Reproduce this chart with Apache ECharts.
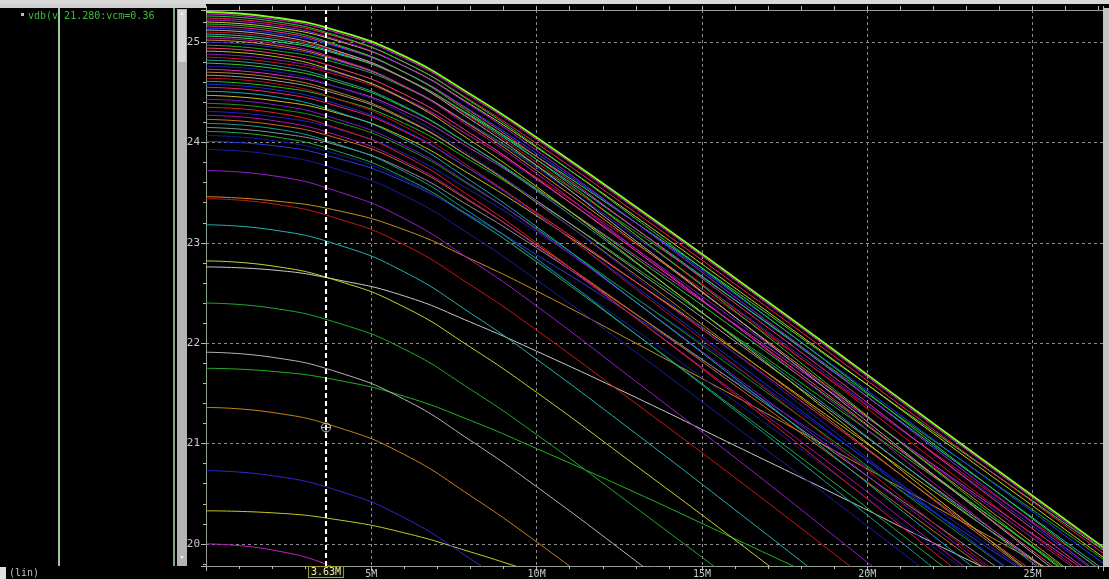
<!DOCTYPE html>
<html><head><meta charset="utf-8">
<script src="https://cdn.jsdelivr.net/npm/echarts@6/dist/echarts.min.js"></script>
<style>html,body{margin:0;padding:0;background:#000;overflow:hidden}#c{width:1109px;height:579px;}</style>
</head><body><div id="c"></div>
<script>
// Frequency samples (MHz) shared by every curve
const freqM = [0, 2, 4, 6, 8, 10, 13, 16, 19, 22, 25, 28];

// vdb curves (dB), lowest DC gain first, top envelope last
const vdbCurves = [
  [20.00, 19.94, 19.75, 19.43],
  [20.33, 20.31, 20.24, 20.11, 19.92, 19.71],
  [20.73, 20.68, 20.53, 20.26, 19.85, 19.39],
  [21.36, 21.31, 21.16, 20.89, 20.48, 20.02, 19.28],
  [21.75, 21.72, 21.63, 21.47, 21.23, 20.95, 20.51, 20.05, 19.59],
  [21.91, 21.86, 21.71, 21.44, 21.03, 20.57, 19.83, 19.07],
  [22.40, 22.35, 22.20, 21.94, 21.54, 21.09, 20.36, 19.62],
  [22.76, 22.73, 22.63, 22.47, 22.21, 21.92, 21.46, 20.98, 20.50, 20.01, 19.53],
  [22.82, 22.77, 22.62, 22.36, 21.96, 21.51, 20.78, 20.04, 19.28],
  [23.18, 23.13, 22.98, 22.71, 22.30, 21.84, 21.10, 20.34, 19.57],
  [23.44, 23.39, 23.24, 22.98, 22.58, 22.13, 21.40, 20.66, 19.90, 19.13],
  [23.46, 23.42, 23.32, 23.13, 22.84, 22.52, 22.00, 21.47, 20.93, 20.38, 19.84, 19.30],
  [23.72, 23.67, 23.51, 23.24, 22.83, 22.37, 21.62, 20.86, 20.08, 19.29],
  [23.93, 23.88, 23.73, 23.47, 23.08, 22.63, 21.91, 21.17, 20.43, 19.67],
  [24.01, 23.97, 23.84, 23.61, 23.27, 22.88, 22.26, 21.62, 20.98, 20.32, 19.67],
  [24.07, 24.02, 23.88, 23.63, 23.25, 22.82, 22.13, 21.42, 20.70, 19.97, 19.25],
  [24.11, 24.06, 23.91, 23.65, 23.26, 22.81, 22.09, 21.35, 20.61, 19.85, 19.10],
  [24.15, 24.10, 23.97, 23.73, 23.36, 22.95, 22.29, 21.61, 20.91, 20.21, 19.52],
  [24.19, 24.14, 23.98, 23.71, 23.30, 22.84, 22.09, 21.33, 20.55, 19.76],
  [24.23, 24.18, 24.04, 23.79, 23.41, 22.98, 22.29, 21.58, 20.86, 20.13, 19.41],
  [24.27, 24.22, 24.07, 23.81, 23.42, 22.97, 22.25, 21.51, 20.77, 20.01, 19.26],
  [24.31, 24.26, 24.13, 23.89, 23.52, 23.11, 22.45, 21.77, 21.07, 20.37, 19.68],
  [24.35, 24.30, 24.14, 23.87, 23.46, 23.00, 22.25, 21.49, 20.71, 19.92, 19.14],
  [24.39, 24.34, 24.20, 23.95, 23.57, 23.14, 22.45, 21.74, 21.02, 20.29, 19.57],
  [24.43, 24.38, 24.23, 23.97, 23.58, 23.13, 22.41, 21.67, 20.93, 20.17, 19.42],
  [24.47, 24.42, 24.29, 24.05, 23.68, 23.27, 22.61, 21.93, 21.23, 20.53, 19.84, 19.15],
  [24.51, 24.46, 24.30, 24.03, 23.62, 23.16, 22.41, 21.65, 20.87, 20.08, 19.30],
  [24.55, 24.50, 24.36, 24.11, 23.73, 23.30, 22.61, 21.90, 21.18, 20.45, 19.73],
  [24.58, 24.53, 24.38, 24.12, 23.73, 23.28, 22.56, 21.82, 21.08, 20.32, 19.57],
  [24.61, 24.56, 24.43, 24.19, 23.82, 23.41, 22.75, 22.07, 21.37, 20.67, 19.98, 19.29],
  [24.64, 24.59, 24.43, 24.16, 23.75, 23.29, 22.54, 21.78, 21.00, 20.21, 19.43],
  [24.67, 24.62, 24.48, 24.23, 23.85, 23.42, 22.73, 22.02, 21.30, 20.57, 19.85, 19.13],
  [24.70, 24.65, 24.50, 24.24, 23.85, 23.40, 22.68, 21.94, 21.20, 20.44, 19.69],
  [24.73, 24.68, 24.55, 24.31, 23.94, 23.53, 22.87, 22.19, 21.49, 20.79, 20.10, 19.41],
  [24.76, 24.71, 24.55, 24.28, 23.87, 23.41, 22.66, 21.90, 21.12, 20.33, 19.55],
  [24.79, 24.74, 24.60, 24.35, 23.97, 23.54, 22.85, 22.14, 21.42, 20.69, 19.97, 19.25],
  [24.82, 24.77, 24.62, 24.36, 23.97, 23.52, 22.80, 22.06, 21.32, 20.56, 19.81, 19.06],
  [24.85, 24.80, 24.67, 24.43, 24.06, 23.65, 22.99, 22.31, 21.61, 20.91, 20.22, 19.53],
  [24.88, 24.83, 24.69, 24.44, 24.06, 23.63, 22.94, 22.23, 21.51, 20.78, 20.06, 19.34],
  [24.91, 24.86, 24.70, 24.43, 24.02, 23.56, 22.81, 22.05, 21.27, 20.48, 19.70],
  [24.94, 24.89, 24.74, 24.48, 24.09, 23.64, 22.92, 22.18, 21.44, 20.68, 19.93, 19.18],
  [24.97, 24.92, 24.79, 24.55, 24.18, 23.77, 23.11, 22.43, 21.73, 21.03, 20.34, 19.65],
  [25.00, 24.95, 24.81, 24.56, 24.18, 23.75, 23.06, 22.35, 21.63, 20.90, 20.18, 19.46],
  [25.02, 24.97, 24.82, 24.56, 24.17, 23.72, 23.00, 22.26, 21.52, 20.76, 20.01, 19.26],
  [25.04, 24.99, 24.83, 24.56, 24.15, 23.69, 22.94, 22.18, 21.40, 20.61, 19.83, 19.06],
  [25.06, 25.01, 24.88, 24.64, 24.27, 23.86, 23.20, 22.52, 21.82, 21.12, 20.43, 19.74],
  [25.08, 25.03, 24.89, 24.64, 24.26, 23.83, 23.14, 22.43, 21.71, 20.98, 20.26, 19.54],
  [25.10, 25.05, 24.90, 24.64, 24.25, 23.80, 23.08, 22.34, 21.60, 20.84, 20.09, 19.34],
  [25.12, 25.07, 24.91, 24.64, 24.23, 23.77, 23.02, 22.26, 21.48, 20.69, 19.91, 19.14],
  [25.14, 25.09, 24.95, 24.70, 24.32, 23.89, 23.20, 22.49, 21.77, 21.04, 20.32, 19.60],
  [25.16, 25.11, 24.96, 24.70, 24.31, 23.86, 23.14, 22.40, 21.66, 20.90, 20.15, 19.40],
  [25.18, 25.13, 24.97, 24.70, 24.29, 23.83, 23.08, 22.32, 21.54, 20.75, 19.97, 19.20],
  [25.20, 25.15, 25.01, 24.76, 24.38, 23.95, 23.26, 22.55, 21.83, 21.10, 20.38, 19.66],
  [25.22, 25.17, 25.02, 24.76, 24.37, 23.92, 23.20, 22.46, 21.72, 20.96, 20.21, 19.46],
  [25.24, 25.19, 25.05, 24.80, 24.42, 23.99, 23.30, 22.59, 21.87, 21.14, 20.42, 19.70],
  [25.26, 25.21, 25.06, 24.80, 24.41, 23.96, 23.24, 22.50, 21.76, 21.00, 20.25, 19.50],
  [25.28, 25.23, 25.09, 24.84, 24.46, 24.03, 23.34, 22.63, 21.91, 21.18, 20.46, 19.74],
  [25.30, 25.25, 25.11, 24.86, 24.48, 24.05, 23.36, 22.65, 21.93, 21.20, 20.48, 19.76]
];

const curveColors = [
  '#c020c0','#c8c828','#2a2ad0','#c8821e','#22b422','#b4b4b4','#20a830','#c8c8c8','#d0d030','#20b4b4',
  '#c81818','#c8901c','#9a1ccc','#1a1aa8','#2a3ae0',
  '#1818a0','#20b040','#909090','#10a0a0','#d07010','#b010b0','#2020c0','#e02020','#10a010','#9010d0',
  '#d0c010','#10b0c0','#ff2070','#1030e0','#20c020','#c01020','#a0a0a0','#c08020','#d030d0','#2020b0',
  '#30d030','#20a0a0','#d01030','#8020c0','#c0c020','#ff4080','#20b020','#3030d0','#e09020','#c010c0',
  '#40e040','#20c0c0','#e01020','#b0b0b0','#2040ff','#ff3090','#30c030','#d0d020','#a020f0','#ff2050',
  '#20d040','#e020e0','#80ff20'
];

const legendText = 'vdb(v 21.280:vcm=0.36';
const xScaleText = '(lin)';
const cursorFreqM = 3.63;
const cursorVdb = 21.16;
const cursorText = '3.63M';

const MONO = '"DejaVu Sans Mono","Liberation Mono",monospace';
const chart = echarts.init(document.getElementById('c'), null, {renderer: 'canvas'});

const lastIdx = vdbCurves.length - 1;
const series = vdbCurves.map((vals, i) => ({
  type: 'line',
  data: vals.map((v, j) => [freqM[j], v]),
  xAxisIndex: 0, yAxisIndex: 0,
  smooth: 0.5,
  symbol: 'none', silent: true, clip: true,
  lineStyle: {color: curveColors[i % curveColors.length], width: i === lastIdx ? 1.8 : 1},
  z: 2
}));

series.push({
  type: 'line', data: [], xAxisIndex: 0, yAxisIndex: 0, silent: true,
  markLine: {
    silent: true, symbol: ['none', 'none'], animation: false,
    lineStyle: {color: '#ffffff', type: [5, 3], width: 2},
    label: {
      show: true, position: 'start', distance: 1, formatter: cursorText,
      color: '#e8e8c8', fontFamily: MONO, fontSize: 10,
      backgroundColor: '#101000', borderColor: '#9c9c30', borderWidth: 1, padding: [0, 2, 0, 2]
    },
    data: [{xAxis: cursorFreqM}]
  },
  z: 5
});

series.push({
  type: 'scatter', data: [[cursorFreqM, cursorVdb]], xAxisIndex: 0, yAxisIndex: 0,
  symbol: 'path://M0,5 A5,5 0 1,1 10,5 A5,5 0 1,1 0,5 Z M5,0 L5,10 M0,5 L10,5',
  symbolSize: 9, silent: true,
  itemStyle: {color: 'rgba(0,0,0,0)', borderColor: '#e8e8e8', borderWidth: 1},
  z: 10
});

const axisLineStyle = {color: '#8fa08f', width: 1};
const tickStyle = {color: '#b8b8b8', width: 1};
const gridStyle = {color: '#8c8c8c', type: [3, 3], width: 1};

chart.setOption({
  backgroundColor: '#000000',
  animation: false,
  grid: {left: 206, right: 6, top: 10, bottom: 13, containLabel: false},
  xAxis: [{
    type: 'value', min: 0, max: 27.13, interval: 5, position: 'bottom',
    axisLine: {show: true, onZero: false, lineStyle: axisLineStyle},
    axisTick: {show: true, inside: false, length: 5, lineStyle: tickStyle},
    minorTick: {show: true, splitNumber: 5, length: 3, lineStyle: tickStyle},
    axisLabel: {show: true, margin: 3, color: '#c8c8c8', fontFamily: MONO, fontSize: 10,
      showMinLabel: false, showMaxLabel: false,
      formatter: v => (v === 0 ? '' : v + 'M')},
    splitLine: {show: true, showMinLine: false, showMaxLine: false, lineStyle: gridStyle}
  }, {
    type: 'value', min: 0, max: 27.13, interval: 5, position: 'top',
    axisLine: {show: true, onZero: false, lineStyle: {color: '#9a9a9a', width: 1}},
    axisTick: {show: true, inside: false, length: 4, lineStyle: tickStyle},
    minorTick: {show: true, splitNumber: 5, length: 4, lineStyle: tickStyle},
    axisLabel: {show: false}, splitLine: {show: false}
  }],
  yAxis: [{
    type: 'value', min: 19.78, max: 25.32, splitNumber: 5, position: 'left',
    axisLine: {show: true, onZero: false, lineStyle: axisLineStyle},
    axisTick: {show: true, inside: false, length: 5, lineStyle: tickStyle},
    minorTick: {show: true, splitNumber: 5, length: 3, lineStyle: tickStyle},
    axisLabel: {show: true, margin: 6, color: '#c8c8c8', fontFamily: MONO, fontSize: 11,
      showMinLabel: false, showMaxLabel: false,
      formatter: v => (Math.abs(v - Math.round(v)) < 1e-6 ? String(Math.round(v)) : '')},
    splitLine: {show: true, showMinLine: false, showMaxLine: false, lineStyle: gridStyle}
  }],
  graphic: [
    {type: 'rect', shape: {x: 0, y: 0, width: 1109, height: 4}, style: {fill: '#d8d8d8'}, z: 100},
    {type: 'rect', shape: {x: 0, y: 4, width: 206, height: 4}, style: {fill: '#d0d0d0'}, z: 100},
    {type: 'rect', shape: {x: 0, y: 567, width: 6, height: 12}, style: {fill: '#e0e0e0'}, z: 100},
    {type: 'rect', shape: {x: 1103, y: 8, width: 6, height: 559}, style: {fill: '#c4c4c4'}, z: 100},
    {type: 'rect', shape: {x: 21, y: 13, width: 3, height: 3}, style: {fill: '#a8c8a8'}, z: 100},
    {type: 'text', x: 28, y: 11, style: {text: legendText, fill: '#3cbc3c', font: '10px ' + MONO}, z: 100},
    {type: 'rect', shape: {x: 58, y: 8, width: 2, height: 558}, style: {fill: '#9cc89c'}, z: 101},
    {type: 'rect', shape: {x: 173, y: 8, width: 2, height: 558}, style: {fill: '#80a880'}, z: 101},
    {type: 'rect', shape: {x: 177, y: 9, width: 10, height: 557}, style: {fill: '#b4b4b4'}, z: 101},
    {type: 'rect', shape: {x: 178, y: 10, width: 8, height: 52}, style: {fill: '#d6d6d6'}, z: 102},
    {type: 'polygon', shape: {points: [[180, 15], [184, 15], [182, 12]]}, style: {fill: '#f0f0f0'}, z: 103},
    {type: 'polygon', shape: {points: [[180, 556], [184, 556], [182, 559]]}, style: {fill: '#f0f0f0'}, z: 103},
    {type: 'text', x: 9, y: 568, style: {text: xScaleText, fill: '#c0c0c0', font: '10px ' + MONO}, z: 100}
  ],
  series: series
});
</script>
</body></html>
